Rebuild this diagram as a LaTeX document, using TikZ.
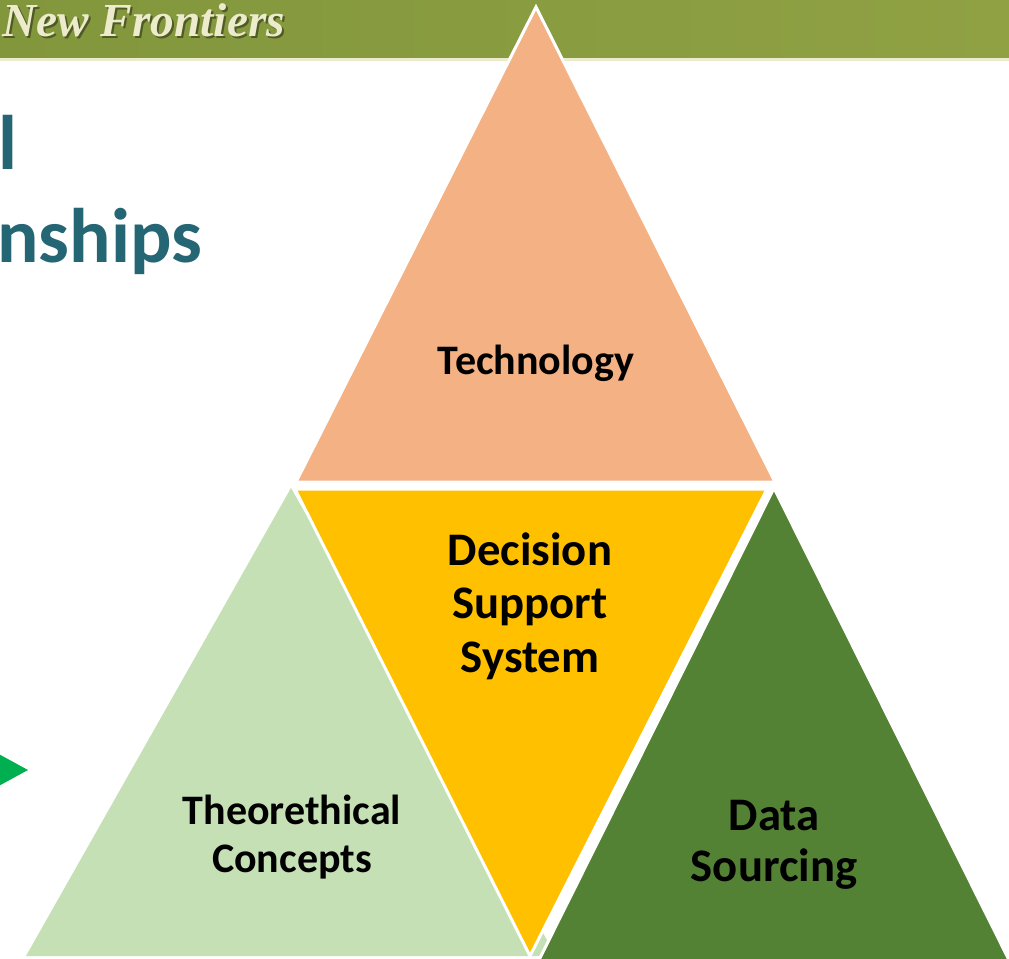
\documentclass[tikz,border=0pt]{standalone}
\usepackage{fontspec}
\setmainfont{Carlito}
\newfontfamily\bannerfont{Liberation Serif}
\usepackage{tikz}
\usetikzlibrary{positioning}

\definecolor{bandolive}{RGB}{143,161,67}
\definecolor{bandolivedark}{RGB}{130,150,60}
\definecolor{bandcream}{RGB}{236,236,205}
\definecolor{titleteal}{RGB}{36,102,115}
\definecolor{techorange}{RGB}{244,177,131}
\definecolor{dssyellow}{RGB}{255,192,0}
\definecolor{theorygreen}{RGB}{197,224,180}
\definecolor{datagreen}{RGB}{84,130,53}
\definecolor{arrowgreen}{RGB}{0,176,80}

\begin{document}
\begin{tikzpicture}[x=0.75pt,y=-0.75pt,
  tri/.style={draw=white, line width=2.25pt, line join=miter},
  lbl/.style={font=\bfseries\fontsize{35}{40}\selectfont, align=center, text=black, inner sep=0pt},
  bannertext/.style={anchor=base west, inner sep=0pt, font=\bannerfont\bfseries\itshape\fontsize{35.5}{40}\selectfont},
  headline/.style={font=\bfseries\fontsize{58}{70}\selectfont, text=titleteal, inner sep=0pt, anchor=base west}]
%\draw [help lines, step=100] (0,0) grid (1009,958);
\clip (0,0) rectangle (1009,958);
\fill[white] (0,0) rectangle (1009,958);

% banner
\shade[left color=bandolivedark, right color=bandolive] (0,0) rectangle (1009,58);
\fill[bandcream] (0,58) rectangle (1009,61);
\node (bannershadow) [bannertext, text=black!75!bandolive, opacity=0.55] at (4,38.5) {New Frontiers};
\node (banner) [bannertext, text=bandcream] at (2,36.5) {New Frontiers};

% title, cut at the left edge
\node (title1) [headline] at (-2,169) {l};
\node (title2) [headline] at (-3,262) {nships};

% green pointer
\fill[arrowgreen] (-5,752) -- (28,770) -- (-5,788) -- cycle;

% triangles
\fill[theorygreen] (291,488) -- (26,956) -- (556,956) -- cycle;
\filldraw[tri, fill=dssyellow] (295,489) -- (767,489) -- (530,956) -- cycle;
\filldraw[tri, fill=datagreen] (774,488) -- (1012,966) -- (536,966) -- cycle;
\filldraw[tri, fill=techorange] (536,7) -- (775,482) -- (296,482) -- cycle;

% labels
\node (tech) [lbl, font=\bfseries\fontsize{31.5}{36}\selectfont, anchor=base] at (536,374) {Technology};
\node (dss) [lbl] at (530,606) {Decision\\Support\\System};
\node (theory) [lbl, font=\bfseries\fontsize{31.5}{36}\selectfont] at (292,837) {Theorethical\\Concepts};
\node (data) [lbl, font=\bfseries\fontsize{35}{38.5}\selectfont] at (774,845) {Data\\Sourcing};
\end{tikzpicture}
\end{document}
